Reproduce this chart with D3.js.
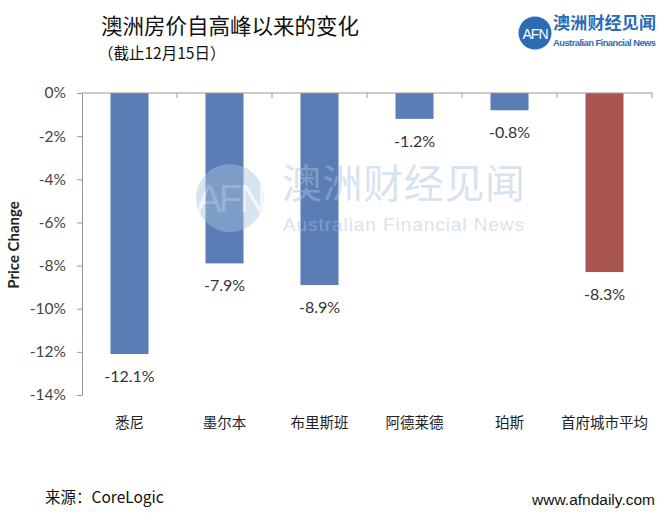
<!DOCTYPE html>
<html><head><meta charset="utf-8">
<script src="https://cdn.jsdelivr.net/npm/d3@7"></script>
<style>body{margin:0;background:#fff}</style>
</head><body>
<script>
const categories = ["悉尼","墨尔本","布里斯班","阿德莱德","珀斯","首府城市平均"];
const values = [-12.1,-7.9,-8.9,-1.2,-0.8,-8.3];
const highlight = [false,false,false,false,false,true];
const yTicks = [0,-2,-4,-6,-8,-10,-12,-14];

const W=670,H=523;
const svg=d3.select("body").append("svg").attr("width",W).attr("height",H);
const latin='Lato, "Open Sans", "Noto Sans", sans-serif';
const cjk='"Noto Sans CJK SC", "Noto Sans", sans-serif';

const x=d3.scaleBand().domain(categories).range([82,652]).paddingInner(0.6).paddingOuter(0.3);
const y=d3.scaleLinear().domain([0,-14]).range([93,395]);

// Title
svg.append("text").attr("x",101).attr("y",34).attr("font-family",cjk).attr("font-size",21.5).attr("fill","#111").text("澳洲房价自高峰以来的变化");
svg.append("text").attr("x",98).attr("y",59).attr("font-family",cjk).attr("font-size",15.5).attr("fill","#111").text("（截止12月15日）");

// logo
const lg=svg.append("g");
lg.append("circle").attr("cx",535).attr("cy",33).attr("r",16.5).attr("fill","#2b6cb4");
lg.append("text").attr("x",535).attr("y",38.5).attr("text-anchor","middle").attr("font-family",'"Liberation Sans", sans-serif').attr("font-size",14).attr("fill","#fff").attr("letter-spacing",-1).text("AFN");
lg.append("text").attr("x",553).attr("y",29).attr("font-family",cjk).attr("font-weight","bold").attr("font-size",17).attr("fill","#2b6cb4").attr("textLength",103).text("澳洲财经见闻");
lg.append("text").attr("x",553).attr("y",46).attr("font-family",'"Liberation Sans", sans-serif').attr("font-weight","bold").attr("font-size",9.4).attr("fill","#2b6cb4").attr("textLength",103).text("Australian Financial News");

// y axis
const ya=svg.append("g").attr("transform","translate(82,0)").call(d3.axisLeft(y).tickValues(yTicks).tickFormat(d=>d+"%").tickSize(5).tickSizeOuter(0));
ya.select(".domain").attr("stroke","#999");
ya.selectAll(".tick line").attr("stroke","#999");
ya.selectAll(".tick text").attr("font-family",latin).attr("font-size",15.5).attr("fill","#444").attr("x",-16);

svg.append("text").attr("transform","translate(19,245) rotate(-90)").attr("text-anchor","middle").attr("font-family",latin).attr("font-weight","bold").attr("font-size",15).attr("fill","#222").text("Price Change");

// bars
svg.selectAll("rect.bar").data(categories).join("rect").attr("class","bar")
 .attr("x",d=>x(d)).attr("width",x.bandwidth())
 .attr("y",y(0)).attr("height",(d,i)=>y(values[i])-y(0))
 .attr("fill",(d,i)=>highlight[i]?"#a8564f":"#5b7db5");

// x axis line at 0
const xa=svg.append("g").attr("transform",`translate(0,${y(0)})`);
xa.append("line").attr("x1",82).attr("x2",652).attr("stroke","#999");
const step=x.step();
const bounds=categories.map(d=>x(d)-(x.paddingInner()*step)/2).slice(1);
bounds.push(652);
xa.selectAll("line.tk").data(bounds).join("line").attr("class","tk").attr("x1",d=>d).attr("x2",d=>d).attr("y1",0).attr("y2",5).attr("stroke","#999");

// category labels
svg.selectAll("text.cat").data(categories).join("text").attr("class","cat")
 .attr("x",d=>x(d)+x.bandwidth()/2).attr("y",428).attr("text-anchor","middle")
 .attr("font-family",cjk).attr("font-size",14.5).attr("fill","#222").text(d=>d);

// value labels
svg.selectAll("text.val").data(categories).join("text").attr("class","val")
 .attr("x",d=>x(d)+x.bandwidth()/2).attr("y",(d,i)=>y(values[i])+28).attr("text-anchor","middle")
 .attr("font-family",latin).attr("font-size",16).attr("fill","#333").text((d,i)=>values[i].toFixed(1)+"%");

// watermark
const wm=svg.append("g").attr("opacity",0.45).attr("fill","#a9c2e0");
wm.append("circle").attr("cx",230).attr("cy",198).attr("r",34);
wm.append("text").attr("x",230).attr("y",212).attr("text-anchor","middle").attr("font-family",'"Liberation Sans", sans-serif').attr("font-size",38).attr("fill","#e8eff8").attr("letter-spacing",-3).text("AFN");
wm.append("text").attr("x",282).attr("y",198).attr("font-family",cjk).attr("font-size",40).attr("textLength",243).text("澳洲财经见闻");
wm.append("text").attr("x",283).attr("y",231).attr("font-family",'"Liberation Sans", sans-serif').attr("font-size",19).attr("textLength",241).text("Australian Financial News");

// footer
svg.append("text").attr("x",45).attr("y",503).attr("font-family",cjk).attr("font-size",15.5).attr("fill","#111").text("来源：CoreLogic");
svg.append("text").attr("x",655).attr("y",505).attr("text-anchor","end").attr("font-family",'"Liberation Sans", sans-serif').attr("font-size",15.5).attr("fill","#111").text("www.afndaily.com");
</script>
</body></html>
